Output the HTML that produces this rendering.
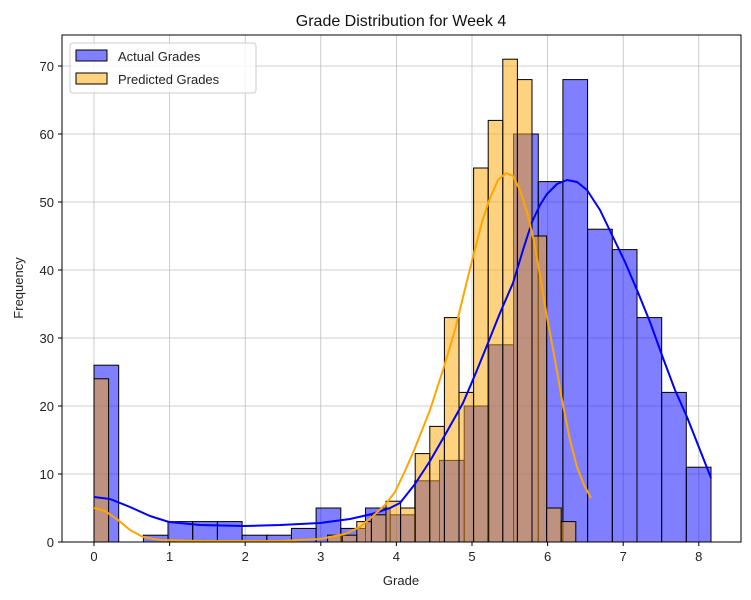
<!DOCTYPE html><html><head><style>body{margin:0;background:#fff}svg{display:block;font-family:"Liberation Sans","DejaVu Sans",sans-serif}</style></head><body>
<svg width="751" height="600" xmlns="http://www.w3.org/2000/svg">
<g stroke="#b0b0b0" stroke-width="0.8" opacity="0.8">
<line x1="94" y1="35" x2="94" y2="542"/><line x1="169.6" y1="35" x2="169.6" y2="542"/><line x1="245.2" y1="35" x2="245.2" y2="542"/><line x1="320.8" y1="35" x2="320.8" y2="542"/><line x1="396.4" y1="35" x2="396.4" y2="542"/><line x1="472" y1="35" x2="472" y2="542"/><line x1="547.6" y1="35" x2="547.6" y2="542"/><line x1="623.2" y1="35" x2="623.2" y2="542"/><line x1="698.8" y1="35" x2="698.8" y2="542"/>
<line x1="62" y1="474" x2="741" y2="474"/><line x1="62" y1="406" x2="741" y2="406"/><line x1="62" y1="338" x2="741" y2="338"/><line x1="62" y1="270" x2="741" y2="270"/><line x1="62" y1="202" x2="741" y2="202"/><line x1="62" y1="134" x2="741" y2="134"/><line x1="62" y1="66" x2="741" y2="66"/>
</g>
<g fill="#0000ff" fill-opacity="0.5" stroke="#000" stroke-width="1">
<rect x="94" y="365.2" width="24.7" height="176.8"/>
<rect x="143.4" y="535.2" width="24.7" height="6.8"/>
<rect x="168" y="521.6" width="24.7" height="20.4"/>
<rect x="192.7" y="521.6" width="24.7" height="20.4"/>
<rect x="217.4" y="521.6" width="24.7" height="20.4"/>
<rect x="242.1" y="535.2" width="24.7" height="6.8"/>
<rect x="266.8" y="535.2" width="24.7" height="6.8"/>
<rect x="291.4" y="528.4" width="24.7" height="13.6"/>
<rect x="316.1" y="508" width="24.7" height="34"/>
<rect x="340.8" y="528.4" width="24.7" height="13.6"/>
<rect x="365.5" y="508" width="24.7" height="34"/>
<rect x="390.2" y="514.8" width="24.7" height="27.2"/>
<rect x="414.8" y="480.8" width="24.7" height="61.2"/>
<rect x="439.5" y="460.4" width="24.7" height="81.6"/>
<rect x="464.2" y="406" width="24.7" height="136"/>
<rect x="488.9" y="344.8" width="24.7" height="197.2"/>
<rect x="513.6" y="134" width="24.7" height="408"/>
<rect x="538.2" y="181.6" width="24.7" height="360.4"/>
<rect x="562.9" y="79.6" width="24.7" height="462.4"/>
<rect x="587.6" y="229.2" width="24.7" height="312.8"/>
<rect x="612.3" y="249.6" width="24.7" height="292.4"/>
<rect x="637" y="317.6" width="24.7" height="224.4"/>
<rect x="661.6" y="392.4" width="24.7" height="149.6"/>
<rect x="686.3" y="467.2" width="24.7" height="74.8"/>
</g>
<g fill="#ffa500" fill-opacity="0.5" stroke="#000" stroke-width="1">
<rect x="94" y="378.8" width="14.6" height="163.2"/>
<rect x="327.6" y="535.2" width="14.6" height="6.8"/>
<rect x="342.2" y="535.2" width="14.6" height="6.8"/>
<rect x="356.8" y="521.6" width="14.6" height="20.4"/>
<rect x="371.4" y="514.8" width="14.6" height="27.2"/>
<rect x="386" y="501.2" width="14.6" height="40.8"/>
<rect x="400.6" y="508" width="14.6" height="34"/>
<rect x="415.2" y="453.6" width="14.6" height="88.4"/>
<rect x="429.8" y="426.4" width="14.6" height="115.6"/>
<rect x="444.4" y="317.6" width="14.6" height="224.4"/>
<rect x="459" y="392.4" width="14.6" height="149.6"/>
<rect x="473.6" y="168" width="14.6" height="374"/>
<rect x="488.2" y="120.4" width="14.6" height="421.6"/>
<rect x="502.8" y="59.2" width="14.6" height="482.8"/>
<rect x="517.4" y="79.6" width="14.6" height="462.4"/>
<rect x="532" y="236" width="14.6" height="306"/>
<rect x="546.6" y="508" width="14.6" height="34"/>
<rect x="561.2" y="521.6" width="14.6" height="20.4"/>
</g>
<polyline points="94,497 110,499 130,507 150,516 169,522 200,525 244,526 280,525 320,523 350,519 372,514 390,508 400,503 415,484 430,461 445,435 463,403 475,375 488,343 500,313 513,283 523,250 532,222 540,205 547,194 557,184 567,180 577,182 587,190 600,210 613,237 625,262 637,290 650,322 663,358 675,390 687,417 700,450 711,478" fill="none" stroke="#0000ff" stroke-width="2" stroke-linejoin="round"/>
<polyline points="94,508 105,511 118,520 130,530 143,537 160,540 200,541 280,541 320,539 345,534 360,527 373,516 385,505 395,492 405,471 415,448 430,410 443,370 455,330 465,289 474,253 482,222 490,198 498,180 506,173 513,176 520,190 527,212 533,237 540,275 547,317 555,360 562,400 570,440 577,467 584,485 591,498" fill="none" stroke="#ffa500" stroke-width="2" stroke-linejoin="round"/>
<rect x="62" y="35" width="679" height="507" fill="none" stroke="#000" stroke-width="1"/>
<g stroke="#000"><line x1="94" y1="542" x2="94" y2="546"/><line x1="169.6" y1="542" x2="169.6" y2="546"/><line x1="245.2" y1="542" x2="245.2" y2="546"/><line x1="320.8" y1="542" x2="320.8" y2="546"/><line x1="396.4" y1="542" x2="396.4" y2="546"/><line x1="472" y1="542" x2="472" y2="546"/><line x1="547.6" y1="542" x2="547.6" y2="546"/><line x1="623.2" y1="542" x2="623.2" y2="546"/><line x1="698.8" y1="542" x2="698.8" y2="546"/>
<line x1="58" y1="542" x2="62" y2="542"/><line x1="58" y1="474" x2="62" y2="474"/><line x1="58" y1="406" x2="62" y2="406"/><line x1="58" y1="338" x2="62" y2="338"/><line x1="58" y1="270" x2="62" y2="270"/><line x1="58" y1="202" x2="62" y2="202"/><line x1="58" y1="134" x2="62" y2="134"/><line x1="58" y1="66" x2="62" y2="66"/></g>
<g font-size="13" fill="#222" text-anchor="middle"><text x="94" y="561">0</text><text x="169.6" y="561">1</text><text x="245.2" y="561">2</text><text x="320.8" y="561">3</text><text x="396.4" y="561">4</text><text x="472" y="561">5</text><text x="547.6" y="561">6</text><text x="623.2" y="561">7</text><text x="698.8" y="561">8</text></g>
<g font-size="13" fill="#222" text-anchor="end"><text x="54" y="547">0</text><text x="54" y="479">10</text><text x="54" y="411">20</text><text x="54" y="343">30</text><text x="54" y="275">40</text><text x="54" y="207">50</text><text x="54" y="139">60</text><text x="54" y="71">70</text></g>
<text x="401" y="585" font-size="13" text-anchor="middle" fill="#222">Grade</text>
<text transform="translate(23,288) rotate(-90)" font-size="13" text-anchor="middle" fill="#222">Frequency</text>
<text x="401" y="26" font-size="16" text-anchor="middle" fill="#111">Grade Distribution for Week 4</text>
<rect x="70" y="43" width="186" height="50" rx="3" fill="#fff" fill-opacity="0.8" stroke="#ccc"/>
<rect x="76" y="50" width="31" height="11" fill="#8080ff" stroke="#000"/>
<rect x="76" y="73" width="31" height="11" fill="#ffd280" stroke="#000"/>
<text x="118" y="61" font-size="13" fill="#222">Actual Grades</text>
<text x="118" y="84" font-size="13" fill="#222">Predicted Grades</text>
</svg></body></html>
